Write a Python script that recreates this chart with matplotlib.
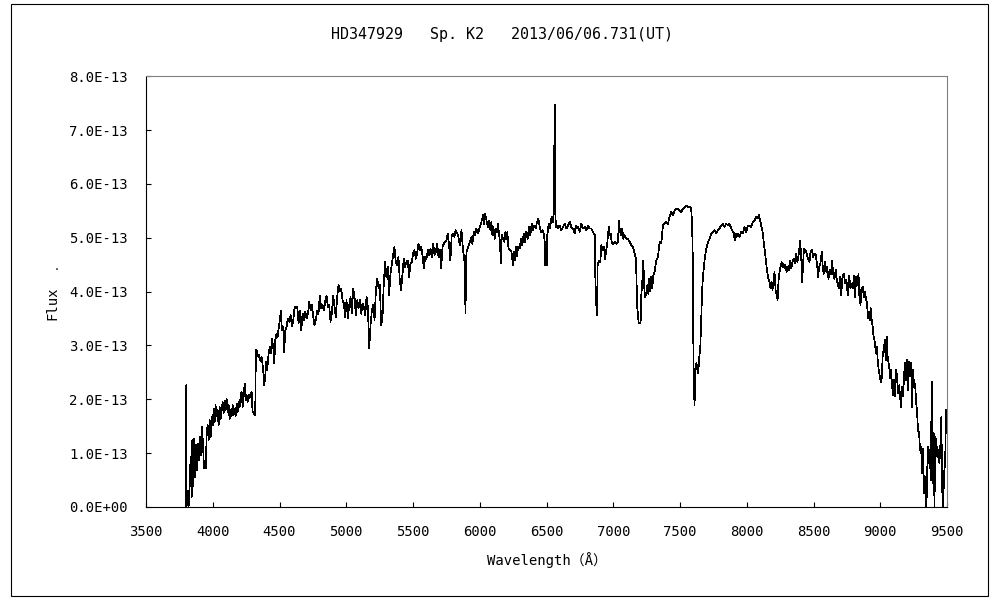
import numpy as np
import matplotlib
matplotlib.use("Agg")
import matplotlib.pyplot as plt
from matplotlib.ticker import FuncFormatter, MultipleLocator
from matplotlib.patches import Rectangle

plt.rcParams['font.family'] = ['DejaVu Sans Mono', 'Noto Sans CJK JP']

# wavelength (A) and flux (units of 1e-13)
wavelength = [
    3797, 3802, 3804, 3812, 3819, 3827, 3834, 3842, 3847, 3854, 3859, 3867, 3874, 3882, 3889, 3897,
    3904, 3912, 3919, 3927, 3934, 3949, 3954, 3962, 3969, 3977, 3984, 3992, 4000, 4007, 4014, 4021,
    4029, 4036, 4044, 4051, 4059, 4066, 4074, 4081, 4089, 4096, 4104, 4111, 4119, 4126, 4134, 4141,
    4149, 4156, 4164, 4171, 4179, 4186, 4194, 4201, 4209, 4216, 4224, 4231, 4239, 4246, 4253, 4261,
    4268, 4276, 4283, 4291, 4298, 4308, 4318,
    4323, 4328, 4341, 4348, 4358, 4366, 4378, 4386, 4393, 4401, 4408, 4418, 4428, 4436, 4443, 4453,
    4461, 4468, 4478, 4486, 4493, 4503, 4510, 4518, 4528, 4535, 4543, 4553, 4563, 4573, 4583, 4593,
    4603, 4613, 4623, 4633, 4643, 4653, 4663, 4673, 4683, 4693, 4703, 4713, 4723, 4733, 4743, 4753,
    4762, 4772, 4782, 4792, 4802, 4812, 4822, 4832, 4842, 4852, 4862, 4872, 4882, 4892, 4902, 4912,
    4922, 4932, 4942, 4952, 4962, 4972, 4982, 4992, 5002, 5012, 5022, 5032, 5042, 5052, 5062, 5072,
    5082, 5092, 5102, 5112, 5122, 5132, 5142, 5152, 5162, 5172, 5182, 5192, 5202, 5212, 5222, 5232,
    5242, 5252, 5261, 5271, 5281, 5291, 5301, 5311, 5321, 5331, 5341, 5351, 5361, 5371, 5381, 5391,
    5401, 5411, 5421, 5431, 5441, 5451, 5461, 5471, 5481, 5491, 5501, 5511, 5521, 5531, 5541, 5551,
    5561, 5571, 5581, 5591, 5601, 5611, 5621, 5631, 5641, 5651, 5661, 5671, 5681, 5691, 5701, 5711,
    5721, 5731, 5741, 5751, 5760, 5770, 5780, 5790, 5800, 5810, 5820, 5838, 5850, 5863, 5875, 5888,
    5893,
    5900, 5913, 5925, 5938, 5945, 5955, 5965, 5975, 5988, 6000, 6012, 6025, 6032, 6040, 6050, 6060,
    6070, 6080, 6087, 6095, 6102, 6112, 6120, 6130, 6137, 6145, 6152, 6157, 6165, 6175, 6185, 6192,
    6200, 6207, 6215, 6225, 6237, 6250, 6257, 6264, 6272, 6279, 6287, 6299, 6309, 6319, 6329, 6339,
    6349, 6359, 6369, 6379, 6389, 6399, 6409, 6419, 6429, 6439, 6449, 6459, 6469, 6479, 6487, 6489,
    6504, 6506, 6516, 6526, 6536, 6544, 6549, 6554, 6559, 6564, 6566, 6569, 6579,
    6586, 6599, 6611, 6624, 6636, 6649, 6661, 6674, 6686, 6699, 6711, 6719, 6729, 6736, 6749, 6761,
    6774, 6786, 6798, 6811, 6823, 6836, 6848, 6861, 6866, 6873, 6878, 6883, 6893, 6903, 6911, 6921,
    6931, 6938, 6946, 6956, 6966, 6973, 6981, 6988, 6998, 7011, 7023, 7035, 7043, 7050, 7060, 7068,
    7075, 7085, 7098, 7110, 7123, 7135, 7148, 7160, 7170, 7175, 7180, 7185, 7190, 7200, 7205, 7210,
    7218, 7223, 7230, 7235, 7245, 7255, 7263, 7270, 7278, 7285, 7292, 7300, 7310, 7322, 7335, 7347,
    7360, 7372, 7385, 7397, 7410, 7422, 7435, 7447, 7460, 7472, 7485,
    7510, 7522, 7534, 7547, 7559, 7572, 7584, 7589, 7592, 7597, 7599, 7604, 7609, 7614, 7622, 7629,
    7637, 7642, 7652, 7659, 7667, 7674, 7684, 7697, 7709, 7722, 7734, 7747, 7759, 7772, 7784, 7796,
    7809, 7821, 7834, 7846, 7859, 7871, 7884, 7896, 7904, 7909, 7916, 7926, 7936, 7946, 7959, 7971,
    7984, 7996, 8009, 8021, 8033, 8046, 8058, 8071, 8083, 8091, 8101, 8108, 8121, 8128, 8136, 8146,
    8153, 8161, 8171, 8178, 8186, 8193, 8201, 8208, 8216, 8223, 8231, 8238, 8246, 8253, 8261, 8268,
    8275, 8283, 8290, 8298, 8308, 8315, 8323, 8333, 8343, 8353, 8363, 8370, 8380, 8390, 8400, 8408,
    8415, 8420, 8428,
    8445, 8458, 8470, 8478, 8488, 8498, 8508, 8517, 8527, 8535, 8542, 8552, 8562, 8570, 8577, 8587,
    8595, 8602, 8612, 8622, 8632, 8640, 8647, 8657, 8667, 8675, 8682, 8690, 8697, 8707, 8717, 8727,
    8737, 8747, 8757, 8767, 8777, 8784, 8794, 8804, 8812, 8819, 8827, 8837, 8844, 8852, 8859, 8869,
    8877, 8884, 8894, 8902, 8907, 8914, 8922, 8929, 8937, 8942, 8949, 8957, 8962, 8967, 8974, 8982,
    8989, 8997, 9004, 9011, 9019, 9026, 9034, 9041, 9049, 9056, 9066, 9074, 9081, 9089, 9096, 9104,
    9111, 9119, 9126, 9134, 9141, 9149, 9156, 9164, 9171, 9179, 9186, 9194, 9201, 9209, 9216, 9224,
    9231, 9239, 9246, 9254, 9261, 9268, 9276, 9283, 9291, 9298, 9306, 9313, 9321, 9328, 9336, 9341,
    9348, 9356, 9363, 9371, 9378, 9386, 9391, 9396, 9401, 9406, 9413, 9421, 9428, 9436, 9443, 9451,
    9458, 9463, 9471, 9478, 9486, 9493, 9501, 9506, 9515, 9525,
]

flux = [
    0.00, 2.26, 0.00, 0.31, 0.00, 0.38, 0.93, 0.19, 1.24, 0.38, 1.27, 0.56, 1.15, 0.69, 1.18, 0.87,
    1.30, 0.96, 1.49, 1.18, 0.72, 0.72, 1.37, 1.52, 1.24, 1.61, 1.30, 1.68, 1.52, 1.83, 1.58, 1.89,
    1.68, 1.80, 1.52, 1.86, 1.64, 1.77, 1.95, 1.74, 1.98, 1.80, 2.00, 1.77, 1.89, 1.64, 1.80, 1.68,
    1.89, 1.71, 1.83, 1.68, 1.92, 1.77, 1.95, 1.86, 2.05, 2.14, 1.86, 2.05, 2.29, 1.98, 2.08, 1.95,
    2.08, 2.02, 2.11, 2.14, 1.77, 1.74, 1.71,
    2.91, 2.91, 2.79, 2.82, 2.70, 2.79, 2.54, 2.26, 2.42, 2.70, 2.54, 2.85, 2.97, 2.85, 3.13, 2.97,
    2.67, 3.10, 3.22, 3.16, 3.31, 3.47, 3.65, 3.28, 3.35, 2.88, 3.28, 3.35, 3.50, 3.44, 3.56, 3.35,
    3.47, 3.72, 3.69, 3.72, 3.41, 3.65, 3.28, 3.59, 3.47, 3.62, 3.50, 3.59, 3.81, 3.65, 3.75, 3.53,
    3.38, 3.47, 3.65, 3.59, 3.93, 3.69, 3.75, 3.65, 3.81, 3.93, 3.72, 3.75, 3.44, 3.59, 3.93, 3.72,
    3.53, 3.90, 4.12, 4.00, 4.06, 3.84, 3.78, 3.53, 3.84, 3.50, 3.75, 3.90, 3.59, 4.06, 3.90, 3.56,
    3.84, 3.69, 3.84, 3.59, 3.78, 3.72, 3.56, 3.90, 3.72, 2.94, 3.38, 3.65, 3.75, 3.47, 4.03, 4.24,
    4.06, 4.12, 3.38, 3.47, 4.15, 4.55, 4.27, 4.46, 3.93, 4.33, 4.49, 4.68, 4.83, 4.55, 4.49, 4.64,
    4.21, 4.03, 4.33, 4.61, 4.46, 4.55, 4.58, 4.27, 4.52, 4.55, 4.71, 4.77, 4.61, 4.71, 4.89, 4.77,
    4.83, 4.68, 4.43, 4.64, 4.61, 4.77, 4.68, 4.80, 4.64, 4.89, 4.68, 4.74, 4.89, 4.64, 4.77, 4.43,
    4.83, 4.89, 4.92, 4.95, 5.08, 4.86, 4.58, 5.05, 5.08, 5.02, 5.14, 5.05, 4.86, 5.14, 4.77, 4.52,
    3.59,
    4.74, 4.83, 4.92, 5.02, 4.89, 5.11, 5.05, 5.17, 5.08, 5.20, 5.29, 5.42, 5.26, 5.45, 5.33, 5.20,
    5.31, 5.14, 5.29, 5.05, 5.20, 4.98, 5.17, 5.11, 5.26, 5.05, 4.92, 4.52, 5.05, 4.98, 4.92, 5.11,
    4.98, 5.11, 4.80, 4.77, 4.74, 4.49, 4.74, 4.58, 4.83, 4.65, 4.83, 4.80, 4.98, 4.86, 5.08, 4.92,
    5.11, 4.98, 5.20, 5.05, 5.26, 5.14, 5.23, 5.17, 5.29, 5.36, 5.20, 5.11, 5.14, 5.08, 4.92, 4.49,
    4.49, 5.05, 5.26, 5.17, 5.36, 5.39, 5.29, 5.45, 6.78, 7.46, 6.07, 5.20, 5.23,
    5.17, 5.23, 5.14, 5.20, 5.26, 5.17, 5.23, 5.29, 5.20, 5.17, 5.08, 5.23, 5.17, 5.20, 5.11, 5.26,
    5.17, 5.20, 5.14, 5.23, 5.17, 5.17, 5.11, 5.05, 4.24, 3.75, 3.56, 4.49, 4.58, 4.55, 4.86, 4.77,
    4.83, 4.61, 4.74, 4.92, 5.20, 5.05, 5.08, 4.92, 4.89, 4.92, 4.89, 4.92, 5.32, 5.11, 5.05, 5.17,
    4.98, 5.05, 4.98, 4.98, 4.92, 4.86, 4.83, 4.71, 4.61, 4.18, 3.69, 3.59, 3.41, 3.41, 3.44, 3.93,
    4.21, 4.58, 4.30, 3.90, 3.93, 4.12, 3.96, 4.24, 4.00, 4.27, 4.06, 4.30, 4.37, 4.58, 4.64, 4.92,
    4.89, 5.23, 5.26, 5.29, 5.26, 5.39, 5.48, 5.42, 5.51, 5.54, 5.54,
    5.48, 5.54, 5.57, 5.60, 5.57, 5.57, 5.54, 5.32, 5.08, 4.46, 3.22, 2.23, 1.89, 2.48, 2.67, 2.60,
    2.48, 2.73, 2.97, 3.50, 4.09, 4.34, 4.58, 4.80, 4.92, 4.98, 5.08, 5.11, 5.14, 5.08, 5.14, 5.17,
    5.23, 5.26, 5.20, 5.26, 5.23, 5.26, 5.17, 5.11, 5.08, 4.95, 5.08, 5.02, 5.08, 5.02, 5.11, 5.08,
    5.20, 5.11, 5.23, 5.23, 5.20, 5.29, 5.32, 5.39, 5.36, 5.42, 5.32, 5.23, 5.08, 4.89, 4.74, 4.52,
    4.37, 4.24, 4.18, 4.06, 4.18, 4.03, 4.21, 4.37, 4.03, 3.96, 3.84, 4.21, 4.37, 4.46, 4.55, 4.46,
    4.52, 4.43, 4.49, 4.37, 4.46, 4.40, 4.58, 4.43, 4.55, 4.61, 4.52, 4.71, 4.55, 4.71, 4.95, 4.64,
    4.18, 4.40, 4.80,
    4.74, 4.61, 4.55, 4.74, 4.77, 4.64, 4.71, 4.68, 4.49, 4.27, 4.46, 4.52, 4.74, 4.43, 4.33, 4.55,
    4.37, 4.46, 4.24, 4.40, 4.33, 4.58, 4.33, 4.24, 4.40, 4.21, 4.12, 4.06, 4.27, 3.93, 4.27, 4.33,
    4.15, 4.21, 3.93, 4.30, 4.06, 4.15, 4.06, 4.30, 3.90, 4.27, 4.12, 4.33, 3.90, 3.75, 4.06, 4.09,
    3.90, 4.00, 3.87, 3.75, 3.50, 3.62, 3.47, 3.69, 3.44, 3.38, 3.19, 3.10, 3.00, 2.85, 2.97, 2.70,
    2.54, 2.42, 2.32, 2.39, 2.85, 2.91, 3.10, 2.73, 3.16, 2.76, 2.63, 2.39, 2.54, 2.23, 2.08, 2.36,
    2.05, 2.54, 2.42, 2.11, 2.26, 2.05, 1.86, 2.23, 2.05, 2.48, 2.67, 2.36, 2.73, 2.17, 2.70, 2.42,
    2.67, 1.86, 2.54, 2.23, 2.29, 1.98, 1.74, 1.43, 1.37, 1.06, 1.12, 0.62, 1.09, 0.25, 0.56, 0.00,
    0.19, 1.12, 0.81, 1.06, 0.50, 2.32, 0.69, 0.44, 1.37, 0.00, 1.31, 1.18, 0.93, 1.06, 0.81, 1.18,
    1.68, 0.38, 0.00, 0.62, 0.81, 1.80, 1.43, 1.31, 1.80, 1.25,
]

title = "HD347929   Sp. K2   2013/06/06.731(UT)"

fig = plt.figure(figsize=(10, 6), dpi=100)
ax = fig.add_axes([0.146, 0.155, 0.801, 0.718])

ax.plot(wavelength, np.array(flux) * 1e-13, color="black", lw=0.5, antialiased=False)

ax.set_xlim(3500, 9500)
ax.set_ylim(0, 8e-13)
ax.xaxis.set_major_locator(MultipleLocator(500))
ax.yaxis.set_major_locator(MultipleLocator(1e-13))
ax.yaxis.set_major_formatter(FuncFormatter(lambda v, p: "%.1E" % v))
ax.tick_params(direction="in", length=3.5, width=0.8, labelsize=10, pad=13,
               top=False, right=False)

for s in ["left", "bottom"]:
    ax.spines[s].set_color("black")
    ax.spines[s].set_linewidth(0.8)
for s in ["top", "right"]:
    ax.spines[s].set_color("#808080")
    ax.spines[s].set_linewidth(0.8)

ax.set_xlabel("Wavelength（Å）", fontsize=10, labelpad=9)
fig.text(0.052, 0.495, "Flux", rotation=90, fontsize=10, ha="center", va="center")
fig.text(0.057, 0.555, ".", fontsize=7, ha="center", va="center")
fig.text(0.502, 0.943, title, fontsize=10.8, ha="center", va="center")

# outer frame around the whole chart
fig.patches.append(Rectangle((0.011, 0.007), 0.977, 0.986, transform=fig.transFigure,
                             fill=False, edgecolor="black", lw=0.8))

fig.savefig("out.png", dpi=100)
